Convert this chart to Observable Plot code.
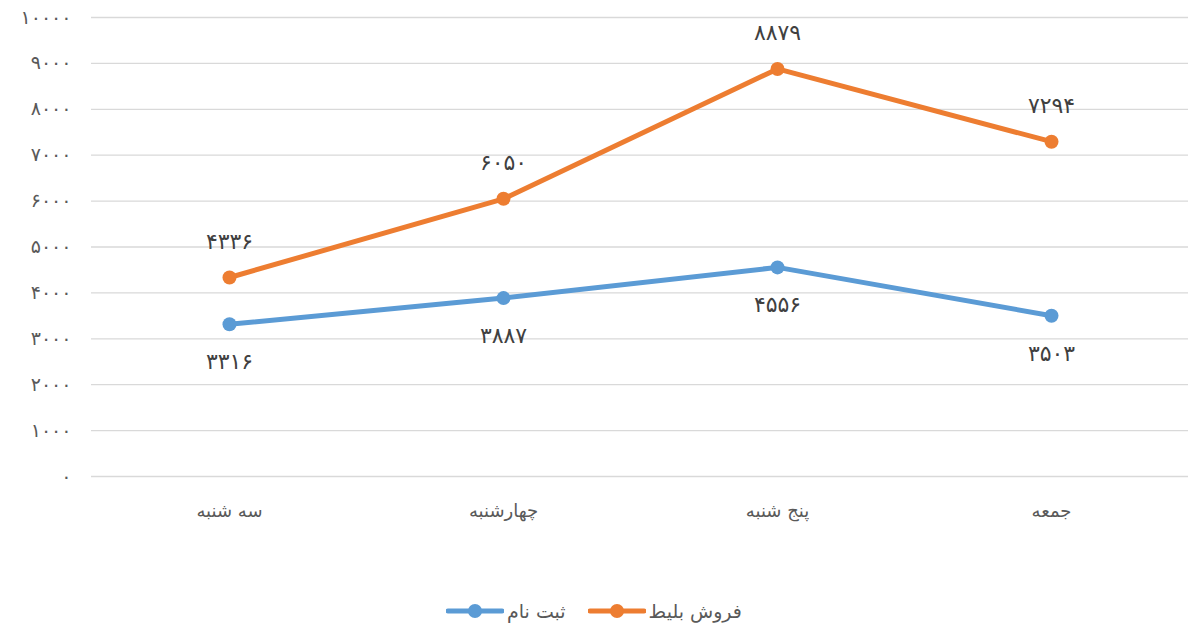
<!DOCTYPE html>
<html><head><meta charset="utf-8">
<script src="https://cdn.jsdelivr.net/npm/d3@7"></script>
<script src="https://cdn.jsdelivr.net/npm/@observablehq/plot@0.6"></script>
<style>
body{margin:0;background:#fff;font-family:"DejaVu Sans",sans-serif;}
#legend{height:65px;display:flex;justify-content:center;align-items:flex-start;gap:22px;color:#595959;font-size:19px;padding-top:40px;box-sizing:border-box;}
.item{display:flex;align-items:center;gap:3px;}
</style></head><body>
<div id="chart"></div>
<div id="legend"></div>
<script>
const days = ["سه شنبه","چهارشنبه","پنج شنبه","جمعه"];
const registrations = [3316, 3887, 4556, 3503];
const ticketSales = [4336, 6050, 8879, 7294];
const seriesNames = ["ثبت نام","فروش بلیط"];
const colors = ["#5B9BD5","#ED7D31"];
const yTicks = [0,1000,2000,3000,4000,5000,6000,7000,8000,9000,10000];

const fa = n => String(n).replace(/\d/g, d => "۰۱۲۳۴۵۶۷۸۹"[d]);
const rows = [];
days.forEach((d,i)=>{
  rows.push({day:d, value:registrations[i], series:seriesNames[0]});
  rows.push({day:d, value:ticketSales[i], series:seriesNames[1]});
});
const reg = rows.filter(r=>r.series===seriesNames[0]);
const sal = rows.filter(r=>r.series===seriesNames[1]);

const chart = Plot.plot({
  width:1188, height:560,
  marginLeft:91, marginRight:0, marginTop:17, marginBottom:84,
  style:{fontFamily:"DejaVu Sans, sans-serif", color:"#595959", background:"#fff"},
  x:{type:"point", domain:days, padding:0.5, label:null},
  y:{domain:[0,10000], label:null},
  color:{domain:seriesNames, range:colors},
  marks:[
    Plot.gridY(yTicks,{stroke:"#d9d9d9", strokeOpacity:1, strokeWidth:1.3}),
    Plot.axisY(yTicks,{tickSize:0, tickPadding:20, tickFormat:fa, fontSize:19, fill:"#595959", label:null}),
    Plot.axisX({tickSize:0, tickPadding:28, fontSize:18, fill:"#595959", label:null}),
    Plot.line(rows,{x:"day", y:"value", stroke:"series", strokeWidth:5, strokeLinecap:"round"}),
    Plot.dot(rows,{x:"day", y:"value", fill:"series", r:7}),
    Plot.text(reg,{x:"day", y:"value", text:d=>fa(d.value), dy:38, fontSize:22, fill:"#404040"}),
    Plot.text(sal,{x:"day", y:"value", text:d=>fa(d.value), dy:-36, fontSize:22, fill:"#404040"})
  ]
});
document.getElementById("chart").appendChild(chart);

const lg = document.getElementById("legend");
seriesNames.forEach((s,i)=>{
  const it = document.createElement("div"); it.className="item";
  it.innerHTML = `<svg width="58" height="16"><line x1="2" y1="8" x2="56" y2="8" stroke="${colors[i]}" stroke-width="5" stroke-linecap="round"/><circle cx="29" cy="8" r="7" fill="${colors[i]}"/></svg><span>${s}</span>`;
  lg.appendChild(it);
});
</script>
</body></html>
